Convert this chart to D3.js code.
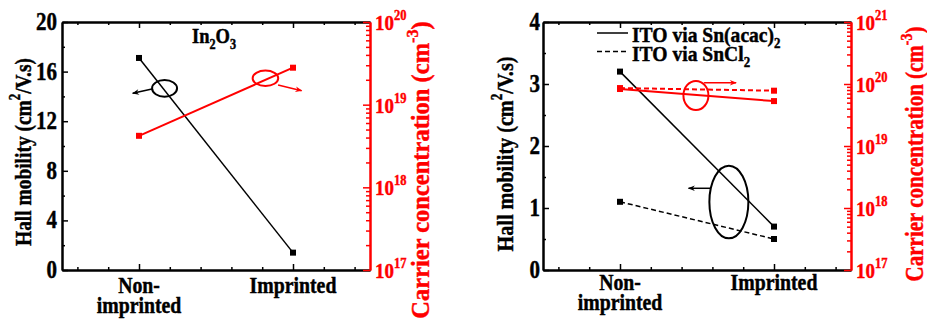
<!DOCTYPE html>
<html>
<head>
<meta charset="utf-8">
<script src="https://cdn.jsdelivr.net/npm/d3@7/dist/d3.min.js"></script>
<style>
  html, body { margin: 0; padding: 0; background: #fff; }
  svg { display: block; }
  svg text { font-family: "Liberation Serif", "Times New Roman", Times, serif; font-weight: bold; }
</style>
</head>
<body>
<svg id="chart" width="927" height="322"></svg>
<script>
// ─── Data ────────────────────────────────────────────────────────────
const categories = ["Non-imprinted", "Imprinted"];
const categoryPos = [1, 2];

// In2O3 panel
const in2o3Mobility = [17.1, 1.4];          // cm2/V.s
const in2o3Carrier = [4.2e18, 2.8e19];      // cm-3

// ITO panel
const itoAcacMobility = [3.2, 0.7];
const itoSnCl2Mobility = [1.1, 0.5];
const itoAcacCarrier = [8.3e19, 5.3e19];
const itoSnCl2Carrier = [8.6e19, 7.8e19];

// Tick values
const leftMobilityTicks = [0, 4, 8, 12, 16, 20];
const leftMobilityMinor = [2, 6, 10, 14, 18];
const rightMobilityTicks = [0, 1, 2, 3, 4];
const rightMobilityMinor = [0.5, 1.5, 2.5, 3.5];
const leftCarrierDomain = [1e17, 1e20];
const rightCarrierDomain = [1e17, 1e21];

const legendLabels = [
  [["ITO via Sn(acac)"], ["2", "sub"]],
  [["ITO via SnCl"], ["2", "sub"]],
];

// ─── Setup ───────────────────────────────────────────────────────────
const RED = "#ff0000";
const svg = d3.select("#chart");
svg.append("rect").attr("width", 927).attr("height", 322).attr("fill", "#fff");

const defs = svg.append("defs");
[["arrow-black", "#000"], ["arrow-red", RED]].forEach(([id, c]) => {
  defs.append("marker")
    .attr("id", id)
    .attr("viewBox", "0 0 10 10")
    .attr("refX", 9).attr("refY", 5)
    .attr("markerWidth", 10).attr("markerHeight", 7)
    .attr("markerUnits", "userSpaceOnUse")
    .attr("orient", "auto")
    .append("path")
    .attr("d", "M0,1 L10,5 L0,9 L3,5 Z")
    .attr("fill", c);
});

// bold serif text, squeezed along its own direction, with sup/sub parts
function label(parent, x, y, parts, o) {
  const size = o.size, sx = o.sx ?? 0.86;
  const fill = o.fill || "#000";
  const g = parent.append("g")
    .attr("transform", `translate(${x},${y}) rotate(${o.rotate || 0}) scale(${sx},1)`);
  const t = g.append("text")
    .attr("font-size", size)
    .attr("fill", fill)
    .attr("stroke", fill)
    .attr("stroke-width", 0.45)
    .attr("text-anchor", o.anchor || "start");
  let shift = 0;
  parts.forEach((p) => {
    const [s, kind] = Array.isArray(p) ? [p[0], p[1] || "n"] : [p, "n"];
    const target = kind === "sup" ? -size * 0.45 : kind === "sub" ? size * 0.28 : 0;
    const ts = t.append("tspan").attr("dy", target - shift).text(s);
    if (kind !== "n") ts.attr("font-size", size * 0.66);
    shift = target;
  });
  return g;
}

function styleAxis(sel, color, width) {
  sel.select(".domain").attr("stroke", color).attr("stroke-width", 2);
  sel.selectAll(".tick line").attr("stroke", color).attr("stroke-width", width);
  sel.selectAll(".tick text").remove();
}

// ─── Panel ───────────────────────────────────────────────────────────
function drawPanel(p) {
  const g = svg.append("g");
  const x = d3.scaleLinear().domain([0.5, 2.5]).range([p.left, p.right]);
  const y = d3.scaleLinear().domain(p.yDomain).range([p.bottom, p.top]);
  const yc = d3.scaleLog().domain(p.cDomain).range([p.bottom, p.top]);

  const xMinor = d3.range(3, 13).map((i) => i * 0.2).filter((v) => Math.abs(v - Math.round(v)) > 0.01);

  // bottom + top axes
  [[d3.axisBottom, p.bottom], [d3.axisTop, p.top]].forEach(([axisFn, yy]) => {
    const a = g.append("g").attr("transform", `translate(0,${yy})`);
    a.call(axisFn(x).tickValues(categoryPos).tickSize(-6).tickSizeOuter(0).tickFormat(""));
    styleAxis(a, "#000", 1.5);
    const m = g.append("g").attr("transform", `translate(0,${yy})`);
    m.call(axisFn(x).tickValues(xMinor).tickSize(-3).tickSizeOuter(0).tickFormat(""));
    styleAxis(m, "#000", 1.5);
  });

  // left axis
  const la = g.append("g").attr("transform", `translate(${p.left},0)`);
  la.call(d3.axisLeft(y).tickValues(p.yTicks).tickSize(-6).tickSizeOuter(0).tickFormat(""));
  styleAxis(la, "#000", 1.5);
  const lm = g.append("g").attr("transform", `translate(${p.left},0)`);
  lm.call(d3.axisLeft(y).tickValues(p.yMinor).tickSize(-3).tickSizeOuter(0).tickFormat(""));
  styleAxis(lm, "#000", 1.5);

  p.yTicks.forEach((v) => {
    label(g, p.left - p.tickGap, y(v) + 8, [String(v)], { size: 25, anchor: "end", sx: 0.84 });
  });

  // right log axis
  const decades = yc.ticks().filter((v) => Math.abs(Math.log10(v) - Math.round(Math.log10(v))) < 1e-9);
  const logMinor = yc.ticks().filter((v) => !decades.includes(v));
  const ra = g.append("g").attr("transform", `translate(${p.right},0)`);
  ra.call(d3.axisRight(yc).tickValues(decades).tickSize(-7).tickSizeOuter(0).tickFormat(""));
  styleAxis(ra, RED, 1.5);
  const rm = g.append("g").attr("transform", `translate(${p.right},0)`);
  rm.call(d3.axisRight(yc).tickValues(logMinor).tickSize(-4).tickSizeOuter(0).tickFormat(""));
  styleAxis(rm, RED, 1.5);

  decades.forEach((v) => {
    const e = Math.round(Math.log10(v));
    label(g, p.right + 5, yc(v) + 8, ["10", [String(e), "sup"]], { size: 22, fill: RED, sx: 0.86 });
  });

  // category labels
  label(g, x(categoryPos[0]), p.bottom + p.catDy, ["Non-"], { size: 23, anchor: "middle" });
  label(g, x(categoryPos[0]), p.bottom + p.catDy + 20, ["imprinted"], { size: 23, anchor: "middle" });
  label(g, x(categoryPos[1]), p.bottom + p.catDy, ["Imprinted"], { size: 23, anchor: "middle" });

  // axis titles
  label(g, p.yTitleX, p.yTitleY, ["Hall mobility (cm", ["2", "sup"], "/V.s)"],
    { size: 24, anchor: "middle", rotate: -90, sx: p.yTitleSx });
  label(g, p.cTitleX, p.cTitleY, ["Carrier concentration (cm", ["-3", "sup"], ")"],
    { size: 25, anchor: "middle", rotate: -90, fill: RED, sx: p.cTitleSx });

  // series
  const pts = (vals) => vals.map((v, i) => ({ x: categoryPos[i], v }));
  p.series.forEach((s) => {
    const sc = s.axis === "c" ? yc : y;
    const line = d3.line().x((d) => x(d.x)).y((d) => sc(d.v));
    g.append("path")
      .datum(pts(s.values))
      .attr("fill", "none")
      .attr("stroke", s.color)
      .attr("stroke-width", s.color === RED ? 2 : 1.5)
      .attr("stroke-dasharray", s.dash || null)
      .attr("d", line);
    g.selectAll(null)
      .data(pts(s.values))
      .join("rect")
      .attr("x", (d) => x(d.x) - 3)
      .attr("y", (d) => sc(d.v) - 3)
      .attr("width", 6).attr("height", 6)
      .attr("fill", s.color);
  });

  // ellipses + arrows (in data units of the mobility axis)
  p.notes.forEach((n) => {
    g.append("ellipse")
      .attr("cx", x(n.cx)).attr("cy", y(n.cy))
      .attr("rx", n.rx).attr("ry", n.ry)
      .attr("fill", "none")
      .attr("stroke", n.color)
      .attr("stroke-width", 2);
    g.append("line")
      .attr("x1", x(n.from[0])).attr("y1", y(n.from[1]))
      .attr("x2", x(n.to[0])).attr("y2", y(n.to[1]))
      .attr("stroke", n.color)
      .attr("stroke-width", 1.5)
      .attr("marker-end", `url(#${n.color === RED ? "arrow-red" : "arrow-black"})`);
  });

  return { g, x, y };
}

// ─── Left panel: In2O3 ───────────────────────────────────────────────
const left = drawPanel({
  left: 62, right: 370, top: 22, bottom: 270,
  yDomain: [0, 20], yTicks: leftMobilityTicks, yMinor: leftMobilityMinor,
  cDomain: leftCarrierDomain, tickGap: 5, catDy: 23,
  yTitleX: 31, yTitleY: 152, yTitleSx: 0.81,
  cTitleX: 429, cTitleY: 170, cTitleSx: 0.98,
  series: [
    { values: in2o3Mobility, color: "#000", axis: "m" },
    { values: in2o3Carrier, color: RED, axis: "c" },
  ],
  notes: [
    { color: "#000", cx: 1.166, cy: 14.65, rx: 12.5, ry: 8.3, from: [1.084, 14.6], to: [0.959, 14.25] },
    { color: RED, cx: 1.821, cy: 15.46, rx: 12.8, ry: 7.7, from: [1.903, 14.92], to: [2.056, 14.46] },
  ],
});
label(left.g, 214, 43, ["In", ["2", "sub"], "O", ["3", "sub"]], { size: 21, anchor: "middle", sx: 0.88 });

// ─── Right panel: ITO ────────────────────────────────────────────────
const right = drawPanel({
  left: 543, right: 851, top: 22, bottom: 270,
  yDomain: [0, 4], yTicks: rightMobilityTicks, yMinor: rightMobilityMinor,
  cDomain: rightCarrierDomain, tickGap: 3, catDy: 20,
  yTitleX: 513, yTitleY: 154, yTitleSx: 0.84,
  cTitleX: 923, cTitleY: 154, cTitleSx: 0.84,
  series: [
    { values: itoAcacMobility, color: "#000", axis: "m" },
    { values: itoSnCl2Mobility, color: "#000", axis: "m", dash: "5,3" },
    { values: itoAcacCarrier, color: RED, axis: "c" },
    { values: itoSnCl2Carrier, color: RED, axis: "c", dash: "5,3" },
  ],
  notes: [
    { color: RED, cx: 1.493, cy: 2.815, rx: 12.5, ry: 14.5, from: [1.546, 3.021], to: [1.754, 3.021] },
    { color: "#000", cx: 1.707, cy: 1.097, rx: 19.5, ry: 36.3, from: [1.59, 1.318], to: [1.445, 1.318] },
  ],
});

// legend
legendLabels.forEach((parts, i) => {
  const ly = 33 + i * 18.5;
  right.g.append("line")
    .attr("x1", 597).attr("x2", 628)
    .attr("y1", ly).attr("y2", ly)
    .attr("stroke", "#000")
    .attr("stroke-width", 1.5)
    .attr("stroke-dasharray", i === 1 ? "5,3" : null);
  label(right.g, 632, ly + 9, parts, { size: 22, sx: 0.89 });
});
</script>
</body>
</html>
